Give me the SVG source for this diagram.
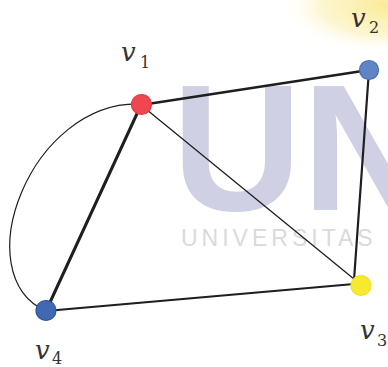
<svg xmlns="http://www.w3.org/2000/svg" width="388" height="367" viewBox="0 0 388 367">
<style>
.edge{fill:none;stroke:#1e1e1e;stroke-linecap:round}
.node{stroke-width:1.2}
.lv{font-family:"DejaVu Serif",serif;font-style:italic;font-size:26px;fill:#333}
.ls{font-family:"DejaVu Serif",serif;font-size:16px;fill:#333}
</style>
<defs>
<radialGradient id="glow" cx="0.5" cy="0.5" r="0.5">
<stop offset="0" stop-color="#fbe98a" stop-opacity="0.9"/>
<stop offset="0.6" stop-color="#fcefb0" stop-opacity="0.6"/>
<stop offset="1" stop-color="#fff" stop-opacity="0"/>
</radialGradient>
</defs>
<rect width="388" height="367" fill="#fff"/>
<g id="background">
<ellipse cx="385" cy="5" rx="105" ry="50" fill="url(#glow)"/>
<text x="172" y="210" font-family="Liberation Sans,Arial,sans-serif" font-weight="bold" font-size="180" fill="#d0d0e5">UN</text>
<text x="181" y="246" font-family="Liberation Sans,Arial,sans-serif" font-size="23" letter-spacing="4" fill="#dadada">UNIVERSITAS</text>
</g>
<g id="connectors">
<path class="edge" d="M141,104 C30,100 -35,275 46,311" stroke-width="1.2"/>
<line class="edge" x1="141" y1="105" x2="369" y2="70" stroke-width="2.5"/>
<line class="edge" x1="141" y1="105" x2="46" y2="311" stroke-width="3"/>
<line class="edge" x1="141" y1="105" x2="354" y2="279" stroke-width="1.3"/>
<line class="edge" x1="369" y1="70" x2="354" y2="280" stroke-width="2.2"/>
<line class="edge" x1="46" y1="311" x2="354" y2="284" stroke-width="2.2"/>
</g>
<g id="v1">
<circle class="node" cx="141.5" cy="104.5" r="10" fill="#ef4650" stroke="#e03a44"/>
<text class="lv" x="121" y="61">v</text><text class="ls" x="140" y="68">1</text>
</g>
<g id="v2">
<circle class="node" cx="369" cy="70" r="9.5" fill="#5f85c6" stroke="#4a6fb0"/>
<text class="lv" x="351" y="27">v</text><text class="ls" x="369" y="33">2</text>
</g>
<g id="v3">
<circle class="node" cx="361" cy="285.5" r="10" fill="#f7ea2e" stroke="#efe02a"/>
<text class="lv" x="360" y="339">v</text><text class="ls" x="377" y="346">3</text>
</g>
<g id="v4">
<circle class="node" cx="46" cy="310.5" r="10" fill="#4069b4" stroke="#2f5596"/>
<text class="lv" x="35" y="359">v</text><text class="ls" x="52" y="364">4</text>
</g>
</svg>
